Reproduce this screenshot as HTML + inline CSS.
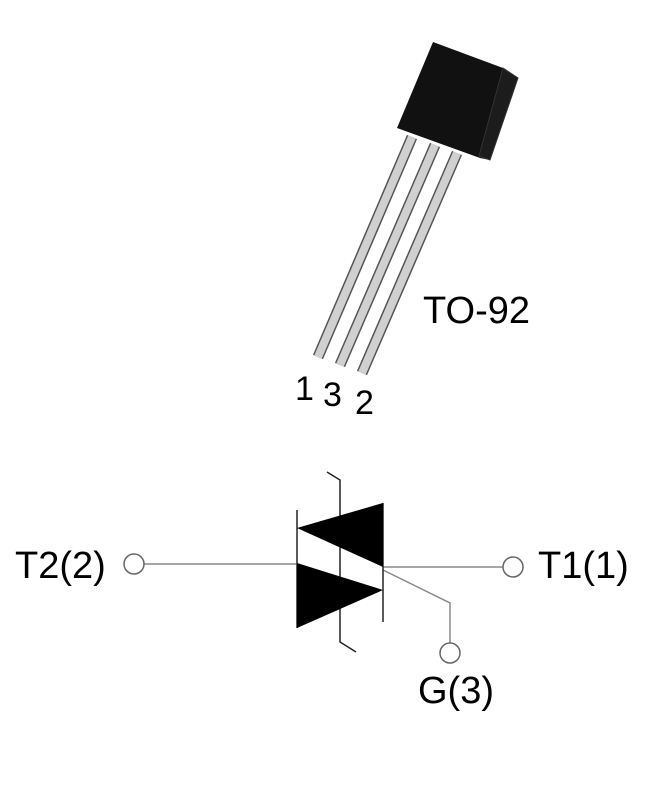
<!DOCTYPE html>
<html><head><meta charset="utf-8"><style>
html,body{margin:0;padding:0;background:#fff;}
svg{display:block;}
text{font-family:"Liberation Sans",sans-serif;fill:#000;}
</style></head><body>
<svg width="655" height="807" viewBox="0 0 655 807" xmlns="http://www.w3.org/2000/svg">
<g stroke-linecap="butt">
<line x1="412" y1="137" x2="318" y2="357" stroke="#555" stroke-width="11"/>
<line x1="412" y1="137" x2="318" y2="357" stroke="#d0d0d0" stroke-width="8"/>
<line x1="435" y1="145" x2="340" y2="365" stroke="#555" stroke-width="11"/>
<line x1="435" y1="145" x2="340" y2="365" stroke="#d0d0d0" stroke-width="8"/>
<line x1="457" y1="153" x2="362" y2="373" stroke="#555" stroke-width="11"/>
<line x1="457" y1="153" x2="362" y2="373" stroke="#d0d0d0" stroke-width="8"/>
</g>
<polygon points="433,42 503,68 518,78 490,160 480,158 397,128" fill="#111"/>
<polygon points="503,68 518,78 490,160 479,156" fill="#1c1c1c" stroke="#333" stroke-width="1"/>
<text x="423" y="323" font-size="38">TO-92</text>
<text x="295" y="400" font-size="34">1</text>
<text x="323" y="406" font-size="34">3</text>
<text x="355" y="414" font-size="34">2</text>
<g stroke="#888" stroke-width="1.5" fill="none">
<line x1="144" y1="564" x2="297" y2="564"/>
<line x1="383" y1="567" x2="503" y2="567"/>
<polyline points="383,570 450,603 450,643"/>
</g>
<g stroke="#222" stroke-width="1.5" fill="none">
<line x1="297" y1="510" x2="297" y2="628"/>
<line x1="383" y1="503" x2="383" y2="622"/>
<polyline points="327,472 340,480 340,642 356,652"/>
</g>
<polygon points="297,528 383,503 383,567" fill="#000"/>
<polygon points="297,563 297,628 383,590" fill="#000"/>
<circle cx="134" cy="564" r="10" fill="#fff" stroke="#666" stroke-width="1.5"/>
<circle cx="513" cy="567" r="10" fill="#fff" stroke="#666" stroke-width="1.5"/>
<circle cx="450" cy="653" r="10" fill="#fff" stroke="#666" stroke-width="1.5"/>
<text x="15" y="578" font-size="38">T2(2)</text>
<text x="538" y="578" font-size="38">T1(1)</text>
<text x="418" y="703" font-size="38">G(3)</text>
</svg>
</body></html>
